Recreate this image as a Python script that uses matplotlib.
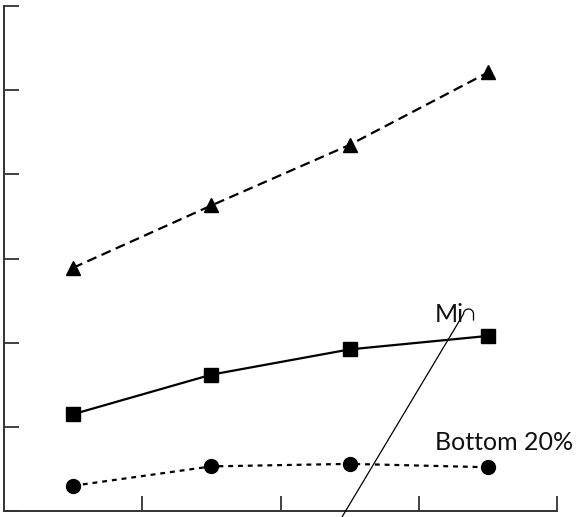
import matplotlib
matplotlib.use("Agg")
import matplotlib.pyplot as plt
from matplotlib.lines import Line2D
import numpy as np

# data
x_pos = [0.5, 1.5, 2.5, 3.5]
top_vals = [2.89, 3.63, 4.35, 5.21]
mid_vals = [1.15, 1.62, 1.92, 2.08]
bottom_vals = [0.30, 0.53, 0.56, 0.52]
x_ticks = [1, 2, 3, 4]
y_ticks = [0, 1, 2, 3, 4, 5, 6]

plt.rcParams['font.family'] = ['Lato', 'DejaVu Sans']

fig = plt.figure(figsize=(5.78, 5.17), dpi=100)
W, H = 578, 517
ax = fig.add_axes([4 / W, 6 / H, (557 - 4) / W, (511 - 6) / H])

ax.plot(x_pos, top_vals, color='black', linestyle=(0, (4.5, 2.5)), linewidth=1.6,
        marker='^', markersize=10.5, clip_on=False)
ax.plot(x_pos, mid_vals, color='black', linestyle='-', linewidth=1.6,
        marker='s', markersize=10, clip_on=False)
ax.plot(x_pos, bottom_vals, color='black', linestyle=(0, (2.2, 2.2)), linewidth=1.6,
        marker='o', markersize=10, clip_on=False)

ax.set_xlim(0, 4)
ax.set_ylim(0, 6)
ax.set_xticks(x_ticks)
ax.set_yticks(y_ticks)
ax.set_xticklabels([])
ax.set_yticklabels([])
ax.tick_params(direction='in', length=11, width=1.3, color='#333333')
for side in ['top', 'right']:
    ax.spines[side].set_visible(False)
for side in ['left', 'bottom']:
    ax.spines[side].set_color('#333333')
    ax.spines[side].set_linewidth(1.4)

# labels
fig.text(435 / W, 1 - 450 / H, 'Bottom 20%', fontsize=18, color='#111111',
         ha='left', va='baseline')
fig.text(435 / W, 1 - 322 / H, 'Mi', fontsize=18, color='#111111',
         ha='left', va='baseline')

# stray leader line with a small hook at the top
t = np.linspace(np.pi, 0, 20)
hx = 468.5 + 5 * np.cos(t)
hy = 314 - 5 * np.sin(t)
px = np.concatenate([[342], hx, [473.5]])
py = np.concatenate([[517], hy, [320]])
fig.add_artist(Line2D(px / W, 1 - py / H, color='black', linewidth=0.9))

fig.savefig('out.png', dpi=100)
